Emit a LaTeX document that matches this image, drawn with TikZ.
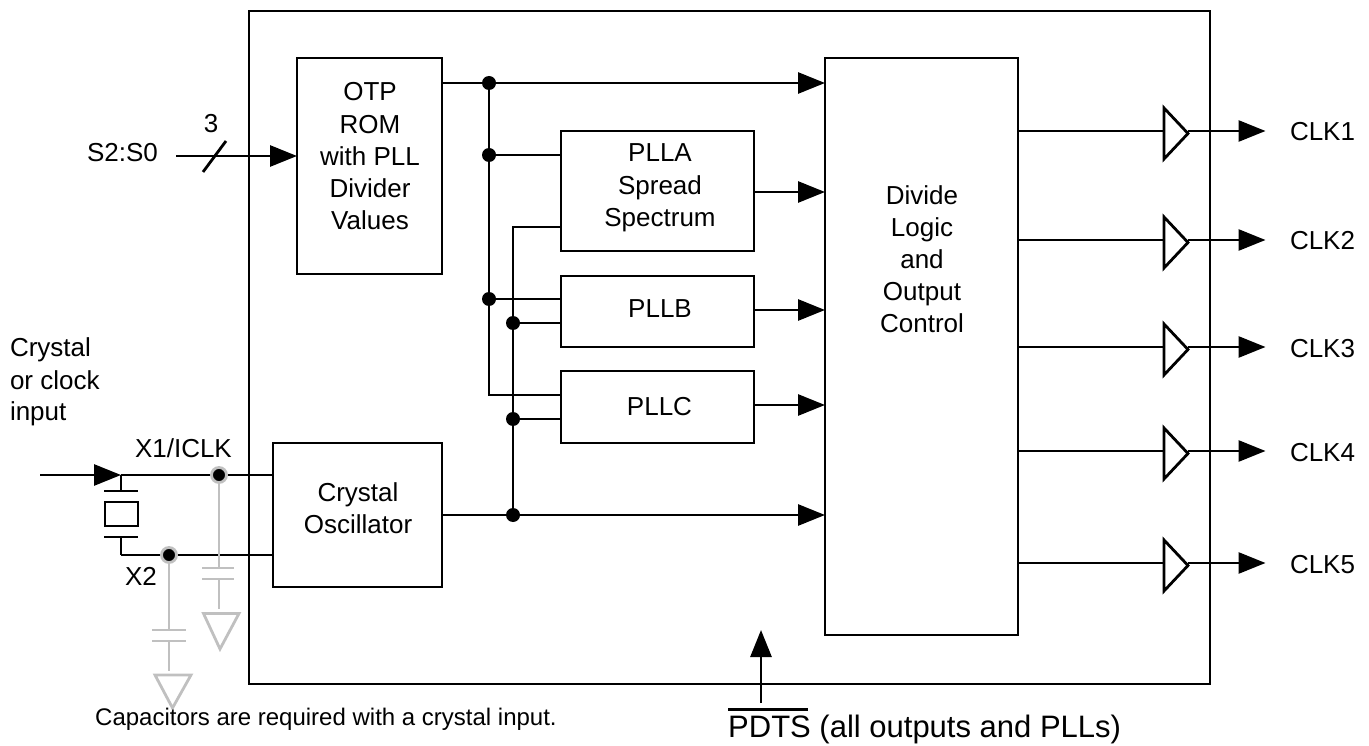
\documentclass[tikz,border=0pt]{standalone}
\usepackage{fontspec}
\setmainfont{Liberation Sans}
\usetikzlibrary{arrows.meta}
\definecolor{capgray}{HTML}{C0C0C0}
\newcommand{\firstline}{\rule{0pt}{20pt}}
\tikzset{
  wire/.style={line width=2.8pt,draw=black},
  gwire/.style={line width=2.8pt,draw=capgray},
  arr/.style={wire,-{Triangle[length=27pt,width=21pt]}},
  blockbox/.style={draw=black,line width=2.8pt,fill=white,inner sep=0pt,outer sep=0pt},
  lbl/.style={inner sep=0pt,outer sep=0pt,font=\fontsize{26}{32.2}\selectfont,align=left},
  blocktext/.style={lbl,align=center,anchor=north},
  jdot/.style={circle,fill=black,inner sep=0pt,minimum size=14pt},
  gdot/.style={circle,fill=black,draw=capgray,line width=2.8pt,inner sep=0pt,minimum size=15pt}
}
\begin{document}
\begin{tikzpicture}[x=1pt,y=-1pt]
\useasboundingbox (0,0) rectangle (1369,746);
% outer box
\node[blockbox,fill=none,minimum width=961pt,minimum height=673pt] (chip) at (729.5,347.5) {};
% blocks
\node[blockbox,minimum width=145pt,minimum height=216pt] (otp) at (369.5,166) {};
\node[blocktext] (otpt) at (370,81) {\firstline OTP\\ROM\\with PLL\\Divider\\Values};
\node[blockbox,minimum width=193pt,minimum height=120pt] (plla) at (657.5,191) {};
\node[blocktext] (pllat) at (660,142) {\firstline PLLA\\Spread\\Spectrum};
\node[blockbox,minimum width=193pt,minimum height=71pt] (pllb) at (657.5,311.5) {};
\node[lbl,anchor=base] (pllbt) at (660,318) {PLLB};
\node[blockbox,minimum width=193pt,minimum height=72pt] (pllc) at (657.5,407) {};
\node[lbl,anchor=base] (pllct) at (659.5,415) {PLLC};
\node[blockbox,minimum width=169pt,minimum height=144pt] (osc) at (357.5,515) {};
\node[blocktext] (osct) at (358,481) {\firstline Crystal\\Oscillator};
\node[blockbox,minimum width=193pt,minimum height=577pt] (div) at (921.5,346.5) {};
\node[blocktext] (divt) at (922,184) {\firstline Divide\\Logic\\and\\Output\\Control};
% junctions
\coordinate (t1) at (489,83);
\coordinate (t2) at (489,155);
\coordinate (t3) at (489,299);
\coordinate (t4) at (489,395);
\coordinate (u0) at (513,227);
\coordinate (u1) at (513,323);
\coordinate (u2) at (513,419);
\coordinate (u3) at (513,515);
% bus wires
\draw[wire] (t1) -- (t4) -- (pllc.west |- t4);
\draw[wire] (t2) -- (plla.west |- t2);
\draw[wire] (t3) -- (pllb.west |- t3);
\draw[wire] (pllb.west |- u1) -- (u1);
\draw[wire] (plla.west |- u0) -- (u0) -- (u3);
\draw[wire] (pllc.west |- u2) -- (u2);
\draw[arr] (otp.east |- t1) -- (div.west |- t1);
\draw[arr] (osc.east |- u3) -- (div.west |- u3);
\coordinate (a1) at (754,192);
\coordinate (a2) at (754,310);
\coordinate (a3) at (754,405);
\draw[arr] (plla.east |- a1) -- (div.west |- a1);
\draw[arr] (pllb.east |- a2) -- (div.west |- a2);
\draw[arr] (pllc.east |- a3) -- (div.west |- a3);
\foreach \n in {t1,t2,t3,u1,u2,u3}{\node[jdot] (dot\n) at (\n) {};}
% outputs
\foreach \i/\y in {1/131,2/240,3/347,4/451,5/563}{
  \coordinate (bi\i) at (1164,\y);
  \coordinate (bo\i) at (1188,\y);
  \coordinate (ck\i) at (1265.5,\y);
  \draw[wire] (div.east |- bi\i) -- (bi\i);
  \draw[wire,line join=miter] (1164,\y-23) -- (1188,\y+2.5) -- (1164,\y+28) -- cycle;
  \draw[arr] (bo\i) -- (ck\i);
  \node[lbl,anchor=base west] (clk\i) at (1290,\y+10) {CLK\i};
}
% select input
\node[lbl,anchor=base west] (s) at (87,162) {S2:S0};
\coordinate (sin) at (176,156);
\draw[arr] (sin) -- (otp.west |- sin);
\coordinate (sl1) at (203,172);
\coordinate (sl2) at (226,141);
\draw[wire] (sl1) -- (sl2);
\node[lbl,anchor=base] (three) at (211,133) {3};
% crystal input
\node[lbl,anchor=base west] (cin) at (10,356) {Crystal};
\node[lbl,anchor=base west] (cin2) at (10,389) {or clock};
\node[lbl,anchor=base west] (cin3) at (10,420) {input};
\node[lbl,anchor=base west] (x1) at (135,457) {X1/ICLK};
\node[lbl,anchor=base west] (x2) at (125,585) {X2};
\coordinate (in0) at (40,475);
\coordinate (in1) at (121,475);
\coordinate (in2) at (121,555);
\draw[arr] (in0) -- (in1);
\draw[wire] (in1) -- (osc.west |- in1);
\draw[wire] (in2) -- (osc.west |- in2);
\draw[wire] (in1) -- (121,491) (104,491) -- (138,491);
\draw[wire] (121,537) -- (in2) (104,537) -- (138,537);
\node[draw=black,line width=2.8pt,minimum width=33pt,minimum height=24pt,inner sep=0pt] (xtal) at (121.5,514) {};
% capacitors
\coordinate (g1) at (219,475);
\coordinate (g2) at (169,555);
\draw[gwire] (g1) -- (219,568) (202,568) -- (234,568) (202,579) -- (234,579) (219,579) -- (219,609);
\draw[gwire,line join=miter] (203.5,613.5) -- (239,613.5) -- (220,649) -- cycle;
\draw[gwire] (g2) -- (169,630) (152,630) -- (186,630) (152,641) -- (186,641) (169,641) -- (169,671);
\draw[gwire,line join=miter] (155,675) -- (191,675) -- (172.5,708) -- cycle;
\node[gdot] (dg1) at (g1) {};
\node[gdot] (dg2) at (g2) {};
% bottom
\node[inner sep=0pt,anchor=base west,font=\fontsize{24}{28}\selectfont] (note) at (95,725) {Capacitors are required with a crystal input.};
\node[inner sep=0pt,anchor=base west,font=\fontsize{31}{36}\selectfont] (pdts) at (728,737) {\rlap{\rule[26.3pt]{80pt}{2.4pt}}PDTS (all outputs and PLLs)};
\coordinate (pd1) at (761,703);
\coordinate (pd2) at (761,630);
\draw[arr] (pd1) -- (pd2);
\end{tikzpicture}
\end{document}
